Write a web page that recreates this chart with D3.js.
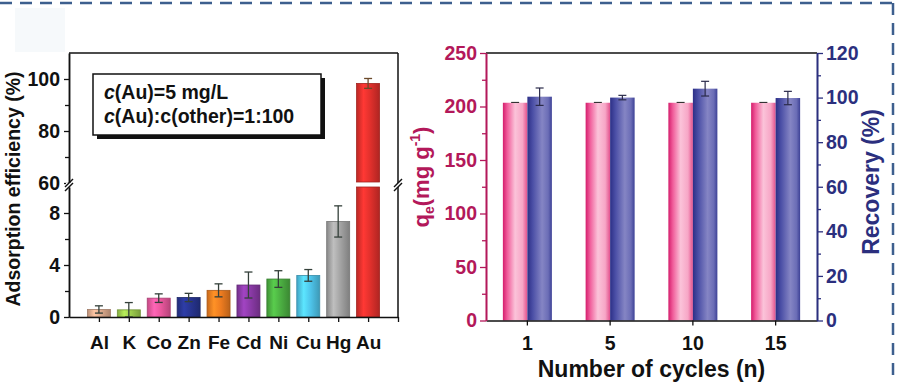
<!DOCTYPE html>
<html>
<head>
<meta charset="utf-8">
<script src="https://cdn.jsdelivr.net/npm/d3@7"></script>
<style>
  body { margin: 0; background: #fff; }
  svg { display: block; font-family: "Liberation Sans", Arial, sans-serif; font-weight: bold; }
</style>
</head>
<body>
<svg id="chart" width="901" height="385"></svg>
<script>
// ---- data: selectivity (left panel) ----
const metals = ["Al", "K", "Co", "Zn", "Fe", "Cd", "Ni", "Cu", "Hg", "Au"];
const efficiency = [0.58, 0.55, 1.45, 1.5, 2.05, 2.46, 2.92, 3.2, 7.35, 98.3];
const efficiencyErr = [0.28, 0.56, 0.33, 0.32, 0.5, 1.0, 0.64, 0.45, 1.2, 1.9];
const metalColors = ["#dba98c", "#9ccb4c", "#e9579d", "#27348f", "#ee7c20", "#8a3aa6", "#4caf42", "#4ec4ea", "#a3a3a3", "#e0302c"];

// ---- data: recycling (right panel) ----
const cycles = ["1", "5", "10", "15"];
const qe = [203.5, 203.5, 203.5, 203.5];
const qeErr = [0.3, 0.3, 0.3, 0.3];
const recovery = [100.4, 100.0, 104.0, 99.8];
const recoveryErr = [3.9, 1.0, 3.3, 3.0];

const svg = d3.select("#chart");
const defs = svg.append("defs");

const crimson = "#b3185a";
const navy = "#2b2f7e";

// dashed frame around the panel
const frameG = svg.append("g").attr("stroke", "#3d5f8e").attr("stroke-width", 2.5)
  .attr("stroke-dasharray", "12,8").attr("fill", "none");
frameG.append("line").attr("x1", 0).attr("x2", 893).attr("y1", 3).attr("y2", 3);
frameG.append("line").attr("x1", 893).attr("x2", 893).attr("y1", 3).attr("y2", 380);

// faint patch in the top-left corner
svg.append("rect").attr("x", 15).attr("y", 8).attr("width", 50).attr("height", 44).attr("fill", "#f6f9fb");

function cylGradient(id, base) {
  const c = d3.color(base);
  const g = defs.append("linearGradient").attr("id", id).attr("x1", "0%").attr("x2", "100%");
  g.append("stop").attr("offset", "0%").attr("stop-color", c.darker(0.5));
  g.append("stop").attr("offset", "30%").attr("stop-color", c.brighter(0.45));
  g.append("stop").attr("offset", "60%").attr("stop-color", c);
  g.append("stop").attr("offset", "100%").attr("stop-color", c.darker(0.7));
}

// ======================= LEFT PANEL =======================
const L = { left: 69, right: 398, top: 53, bottom: 317, breakLo: 187, breakHi: 183 };
const xL = d3.scaleLinear().domain([0, metals.length + 1]).range([L.left, L.right]);
const yLo = d3.scaleLinear().domain([0, 10]).range([L.bottom, L.breakLo]);
const yHi = d3.scaleLinear().domain([60, 110]).range([L.breakHi, L.top]);
const barW = 23;

metalColors.forEach((c, i) => cylGradient("mg" + i, c));

const left = svg.append("g");
const rows = metals.map((m, i) => ({ m, i, v: efficiency[i], e: efficiencyErr[i], c: metalColors[i] }));

rows.forEach(d => {
  const cx = xL(d.i + 1);
  const stroke = d3.color(d.c).darker(0.9);
  if (d.v <= 10) {
    left.append("rect").attr("x", cx - barW / 2).attr("width", barW)
      .attr("y", yLo(d.v)).attr("height", yLo(0) - yLo(d.v))
      .attr("fill", `url(#mg${d.i})`).attr("stroke", stroke).attr("stroke-width", 0.8);
  } else {
    left.append("rect").attr("x", cx - barW / 2).attr("width", barW)
      .attr("y", yLo(10)).attr("height", yLo(0) - yLo(10))
      .attr("fill", `url(#mg${d.i})`).attr("stroke", stroke).attr("stroke-width", 0.8);
    left.append("rect").attr("x", cx - barW / 2).attr("width", barW)
      .attr("y", yHi(d.v)).attr("height", yHi(60) - yHi(d.v) - 1)
      .attr("fill", `url(#mg${d.i})`).attr("stroke", stroke).attr("stroke-width", 0.8);
  }
  const ys = d.v <= 10 ? yLo : yHi;
  const eg = left.append("g").attr("stroke", d.v > 10 ? "#6b4a2a" : "#34403a").attr("stroke-width", 1.3);
  const yt = ys(d.v + d.e), yb = ys(Math.max(0, d.v - d.e));
  eg.append("line").attr("x1", cx).attr("x2", cx).attr("y1", yt).attr("y2", yb);
  eg.append("line").attr("x1", cx - 4).attr("x2", cx + 4).attr("y1", yt).attr("y2", yt);
  eg.append("line").attr("x1", cx - 4).attr("x2", cx + 4).attr("y1", yb).attr("y2", yb);
});

// frame lines
const fr = left.append("g").attr("stroke", "#111").attr("stroke-width", 1.5).attr("fill", "none");
fr.append("line").attr("x1", L.left).attr("x2", L.right).attr("y1", L.top).attr("y2", L.top);
fr.append("line").attr("x1", L.right).attr("x2", L.right).attr("y1", L.top).attr("y2", L.breakHi);
fr.append("line").attr("x1", L.right).attr("x2", L.right).attr("y1", L.breakLo).attr("y2", L.bottom);

// axes
const tickStyle = g => {
  g.select(".domain").attr("stroke", "#111").attr("stroke-width", 1.5);
  g.selectAll(".tick line").attr("stroke", "#111").attr("stroke-width", 1.3);
  g.selectAll(".tick text").attr("font-size", 19.5).attr("fill", "#111")
    .attr("font-family", "'Liberation Sans', Arial, sans-serif").attr("font-weight", "bold");
};
left.append("g").attr("transform", `translate(${L.left},0)`)
  .call(d3.axisLeft(yLo).tickValues([0, 4, 8]).tickSize(5).tickSizeOuter(0).tickPadding(4)).call(tickStyle);
left.append("g").attr("transform", `translate(${L.left},0)`)
  .call(d3.axisLeft(yLo).tickValues([2, 6]).tickSize(4).tickSizeOuter(0).tickFormat("")).call(tickStyle);
left.append("g").attr("transform", `translate(${L.left},0)`)
  .call(d3.axisLeft(yHi).tickValues([60, 80, 100]).tickSize(5).tickSizeOuter(0).tickPadding(4)).call(tickStyle);
left.append("g").attr("transform", `translate(${L.left},0)`)
  .call(d3.axisLeft(yHi).tickValues([70, 90]).tickSize(4).tickSizeOuter(0).tickFormat("")).call(tickStyle);
left.append("g").attr("transform", `translate(0,${L.bottom})`)
  .call(d3.axisBottom(xL).tickValues(d3.range(1, metals.length + 2)).tickSize(5).tickSizeOuter(0)
    .tickPadding(14).tickFormat(i => metals[i - 1] || "")).call(tickStyle)
  .selectAll(".tick text").attr("font-size", 19);

// break marks
[L.left, L.right].forEach(x => {
  left.append("rect").attr("x", x - 3).attr("y", L.breakHi).attr("width", 6).attr("height", L.breakLo - L.breakHi).attr("fill", "#fff");
  [L.breakHi, L.breakLo].forEach(y => {
    left.append("line").attr("x1", x - 4).attr("x2", x + 4).attr("y1", y + 4).attr("y2", y - 4)
      .attr("stroke", "#111").attr("stroke-width", 1.4);
  });
});

// legend box
const lg = left.append("g");
lg.append("rect").attr("x", 97).attr("y", 78).attr("width", 228).attr("height", 61).attr("fill", "#111");
lg.append("rect").attr("x", 93).attr("y", 74).attr("width", 228).attr("height", 61).attr("fill", "#fff")
  .attr("stroke", "#111").attr("stroke-width", 1.5);
const lt1 = lg.append("text").attr("x", 104).attr("y", 99).attr("font-size", 19.5).attr("fill", "#111");
lt1.append("tspan").attr("font-style", "italic").text("c");
lt1.append("tspan").text("(Au)=5 mg/L");
const lt2 = lg.append("text").attr("x", 104).attr("y", 123).attr("font-size", 19.5).attr("fill", "#111");
lt2.append("tspan").attr("font-style", "italic").text("c");
lt2.append("tspan").text("(Au):c(other)=1:100");

left.append("text").attr("transform", "translate(20,189) rotate(-90)").attr("text-anchor", "middle")
  .attr("font-size", 19.5).attr("fill", "#111").text("Adsorption efficiency (%)");

// ======================= RIGHT PANEL =======================
const R = { left: 486, right: 817, top: 53, bottom: 320.5 };
const xR = d3.scaleBand().domain(cycles).range([R.left, R.right]).padding(0);
const yQ = d3.scaleLinear().domain([0, 250]).range([R.bottom, R.top]);
const yRec = d3.scaleLinear().domain([0, 120]).range([R.bottom, R.top]);
const bw = 24.5;

const pg = defs.append("linearGradient").attr("id", "pinkG").attr("x1", "0%").attr("x2", "100%");
[["0%", "#d41d6c"], ["18%", "#f05c9a"], ["50%", "#fbc3d9"], ["80%", "#f7a6c6"], ["100%", "#e2508c"]]
  .forEach(s => pg.append("stop").attr("offset", s[0]).attr("stop-color", s[1]));
const bg = defs.append("linearGradient").attr("id", "blueG").attr("x1", "0%").attr("x2", "100%");
[["0%", "#2c2f86"], ["22%", "#4b4fa6"], ["60%", "#8585c4"], ["85%", "#6b6db6"], ["100%", "#3d4196"]]
  .forEach(s => bg.append("stop").attr("offset", s[0]).attr("stop-color", s[1]));

const right = svg.append("g");
cycles.forEach((c, i) => {
  const cx = xR(c) + xR.bandwidth() / 2;
  right.append("rect").attr("x", cx - bw).attr("width", bw).attr("y", yQ(qe[i]))
    .attr("height", yQ(0) - yQ(qe[i])).attr("fill", "url(#pinkG)");
  right.append("rect").attr("x", cx).attr("width", bw).attr("y", yRec(recovery[i]))
    .attr("height", yRec(0) - yRec(recovery[i])).attr("fill", "url(#blueG)");
  // error bars
  const px = cx - bw / 2, bx = cx + bw / 2;
  const e1 = right.append("g").attr("stroke", "#333").attr("stroke-width", 1.1);
  e1.append("line").attr("x1", px - 4).attr("x2", px + 4).attr("y1", yQ(qe[i] + qeErr[i])).attr("y2", yQ(qe[i] + qeErr[i]));
  const e2 = right.append("g").attr("stroke", "#2a2a4a").attr("stroke-width", 1.2);
  const t = yRec(recovery[i] + recoveryErr[i]), b = yRec(recovery[i] - recoveryErr[i]);
  e2.append("line").attr("x1", bx).attr("x2", bx).attr("y1", t).attr("y2", b);
  e2.append("line").attr("x1", bx - 4).attr("x2", bx + 4).attr("y1", t).attr("y2", t);
  e2.append("line").attr("x1", bx - 4).attr("x2", bx + 4).attr("y1", b).attr("y2", b);
});

right.append("line").attr("x1", R.left).attr("x2", R.right).attr("y1", R.top).attr("y2", R.top)
  .attr("stroke", "#111").attr("stroke-width", 1.5);

const colorAxis = col => g => {
  g.select(".domain").attr("stroke", col).attr("stroke-width", 1.6);
  g.selectAll(".tick line").attr("stroke", col).attr("stroke-width", 1.3);
  g.selectAll(".tick text").attr("font-size", 19.5).attr("fill", col)
    .attr("font-family", "'Liberation Sans', Arial, sans-serif").attr("font-weight", "bold");
};
right.append("g").attr("transform", `translate(0,${R.bottom})`)
  .call(d3.axisBottom(xR).tickSize(5).tickSizeOuter(0).tickPadding(11)).call(colorAxis("#111"));
right.append("g").attr("transform", `translate(${R.left},0)`)
  .call(d3.axisLeft(yQ).tickValues(d3.range(25, 250, 50)).tickSize(4).tickSizeOuter(0).tickFormat("")).call(colorAxis(crimson));
right.append("g").attr("transform", `translate(${R.left},0)`)
  .call(d3.axisLeft(yQ).tickValues(d3.range(0, 251, 50)).tickSize(6).tickSizeOuter(0).tickPadding(3)).call(colorAxis(crimson));
right.append("g").attr("transform", `translate(${R.right},0)`)
  .call(d3.axisRight(yRec).tickValues(d3.range(10, 120, 20)).tickSize(4).tickSizeOuter(0).tickFormat("")).call(colorAxis(navy));
right.append("g").attr("transform", `translate(${R.right},0)`)
  .call(d3.axisRight(yRec).tickValues(d3.range(0, 121, 20)).tickSize(6).tickSizeOuter(0).tickPadding(3)).call(colorAxis(navy));

// axis titles
right.append("text").attr("x", (R.left + R.right) / 2).attr("y", 377).attr("text-anchor", "middle")
  .attr("font-size", 23).attr("fill", "#111").text("Number of cycles (n)");

const qt = right.append("text").attr("transform", "translate(429,177) rotate(-90)").attr("text-anchor", "middle")
  .attr("font-size", 22).attr("fill", crimson);
qt.append("tspan").text("q");
qt.append("tspan").attr("font-size", 14).attr("dy", 5).text("e");
qt.append("tspan").attr("dy", -5).text("(mg g");
qt.append("tspan").attr("font-size", 14).attr("dy", -9).text("-1");
qt.append("tspan").attr("dy", 9).text(")");

right.append("text").attr("transform", "translate(879,182) rotate(-90)").attr("text-anchor", "middle")
  .attr("font-size", 23).attr("fill", navy).text("Recovery (%)");
</script>
</body>
</html>
